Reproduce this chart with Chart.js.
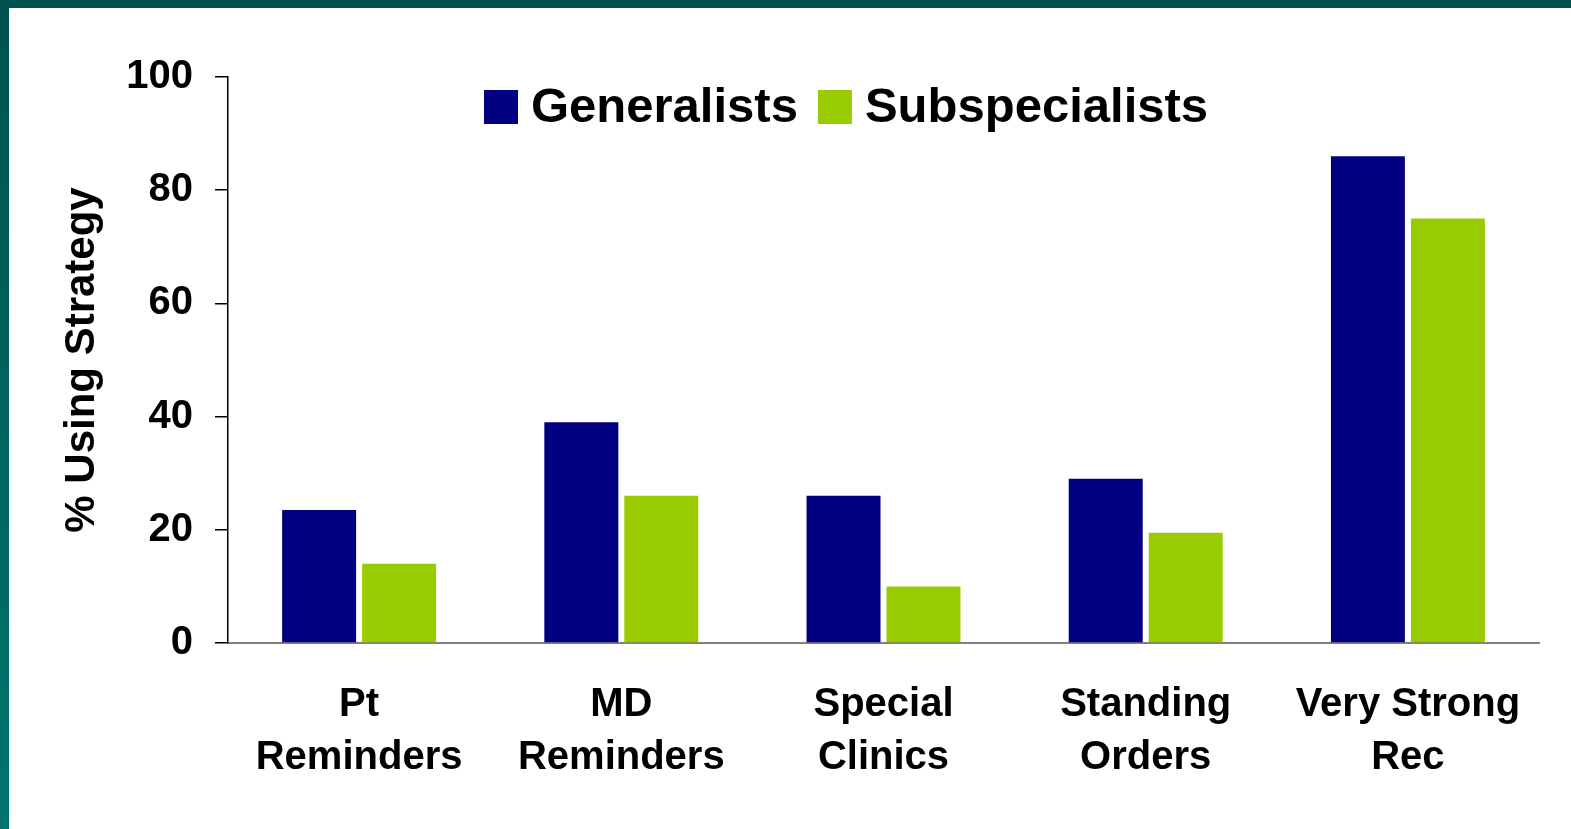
<!DOCTYPE html>
<html>
<head>
<meta charset="utf-8">
<script src="https://cdn.jsdelivr.net/npm/chart.js@4.4.1/dist/chart.umd.min.js"></script>
<style>
  html, body { margin: 0; padding: 0; background: #ffffff; overflow: hidden; }
  #topband { position: absolute; left: 0; top: 0; width: 1571px; height: 8px; background: #00544f; }
  #leftband { position: absolute; left: 0; top: 0; width: 9px; height: 829px; background: linear-gradient(#00524e, #00756e); }
  #wrap { position: absolute; left: 9px; top: 8px; width: 1562px; height: 821px; background: #ffffff; }
</style>
</head>
<body>
<div id="topband"></div>
<div id="leftband"></div>
<div id="wrap"><canvas id="c"></canvas></div>
<script>
const categories = [["Pt", "Reminders"], ["MD", "Reminders"], ["Special", "Clinics"], ["Standing", "Orders"], ["Very Strong", "Rec"]];
const seriesNames = ["Generalists", "Subspecialists"];
const generalists = [23.5, 39, 26, 29, 86];
const subspecialists = [14, 26, 10, 19.5, 75];
const yTicks = [0, 20, 40, 60, 80, 100];
const yTitle = "% Using Strategy";

const FONT = "'Liberation Sans', Arial, Helvetica, sans-serif";

const customLegend = {
  id: 'customLegend',
  afterDraw(chart) {
    const ctx = chart.ctx;
    ctx.save();
    ctx.font = "bold 49px " + FONT;
    ctx.textBaseline = 'alphabetic';
    let x = 475;
    const boxTop = 82, box = 34, baseline = 114;
    chart.data.datasets.forEach((ds, i) => {
      ctx.fillStyle = ds.backgroundColor;
      ctx.fillRect(x, boxTop, box, box);
      x += box + 13;
      ctx.fillStyle = '#000000';
      ctx.fillText(ds.label, x, baseline);
      x += ctx.measureText(ds.label).width + 20;
    });
    ctx.restore();
  }
};

new Chart(document.getElementById('c'), {
  type: 'bar',
  data: {
    labels: categories,
    datasets: [
      { label: seriesNames[0], data: generalists, backgroundColor: '#000080' },
      { label: seriesNames[1], data: subspecialists, backgroundColor: '#99cc00' }
    ]
  },
  options: {
    responsive: true,
    maintainAspectRatio: false,
    animation: false,
    devicePixelRatio: 1,
    categoryPercentage: 0.61,
    barPercentage: 0.925,
    layout: { padding: { left: 0, top: 69, right: 32, bottom: 0 } },
    plugins: {
      legend: { display: false },
      tooltip: { enabled: false }
    },
    scales: {
      x: {
        grid: { display: false, drawTicks: false },
        border: { display: true, color: '#808080', width: 2 },
        ticks: {
          color: '#000000',
          font: { family: FONT, size: 40, weight: 'bold', lineHeight: 1.31 },
          padding: 36,
          maxRotation: 0,
          autoSkip: false
        },
        afterFit(scale) { scale.height = 186; }
      },
      y: {
        min: 0,
        max: 100,
        afterBuildTicks(scale) { scale.ticks = yTicks.map(v => ({ value: v })); },
        grid: { display: true, drawOnChartArea: false, drawTicks: true, tickLength: 13, color: '#000000', lineWidth: 1.5 },
        border: { display: true, color: '#000000', width: 1.5 },
        ticks: {
          color: '#000000',
          font: { family: FONT, size: 40, weight: 'bold' },
          padding: 22
        },
        title: {
          display: true,
          text: yTitle,
          color: '#000000',
          font: { family: FONT, size: 42, weight: 'bold', lineHeight: 1.2 },
          padding: { top: 48, bottom: 0 }
        },
        afterFit(scale) { scale.width = 219; }
      }
    }
  },
  plugins: [customLegend]
});
</script>
</body>
</html>
